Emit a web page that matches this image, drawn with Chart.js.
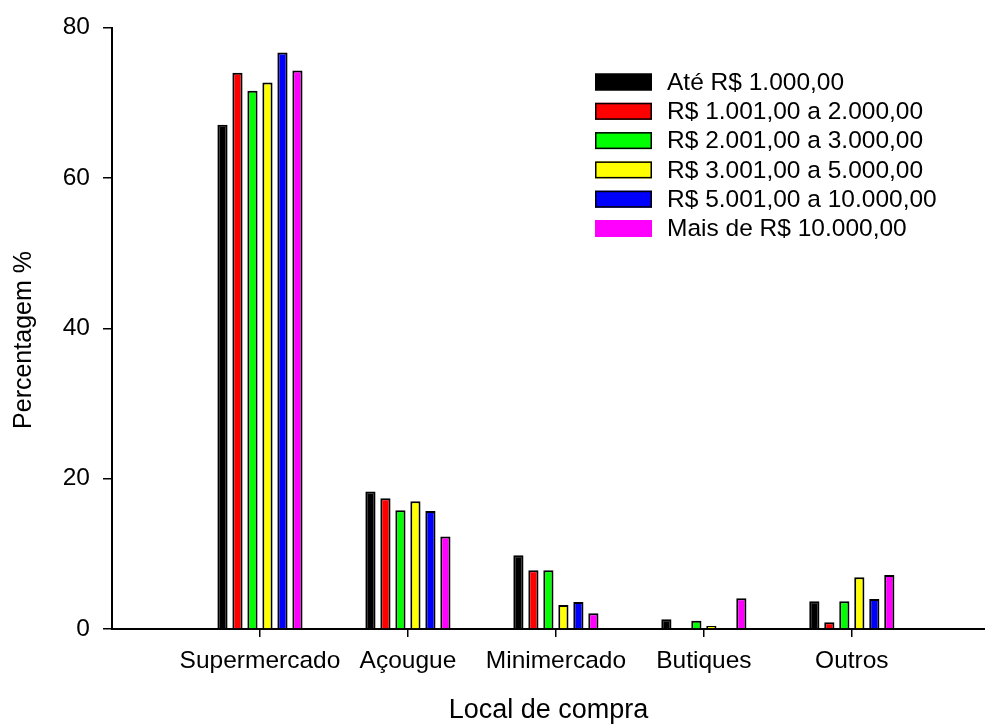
<!DOCTYPE html>
<html>
<head>
<meta charset="utf-8">
<script src="https://cdn.jsdelivr.net/npm/chart.js@4.4.1/dist/chart.umd.min.js"></script>
<style>
  html, body { margin: 0; padding: 0; background: #fff; overflow: hidden; }
  #wrap { width: 985px; height: 724px; }
</style>
</head>
<body>
<div id="wrap"><canvas id="c" width="985" height="724"></canvas></div>
<script>
// Purchase location by household income bracket (% of respondents)
const categories = ['Supermercado', 'Açougue', 'Minimercado', 'Butiques', 'Outros'];

const incomeLabels = [
  'Até R$ 1.000,00',
  'R$ 1.001,00 a 2.000,00',
  'R$ 2.001,00 a 3.000,00',
  'R$ 3.001,00 a 5.000,00',
  'R$ 5.001,00 a 10.000,00',
  'Mais de R$ 10.000,00'
];

const ate1000      = [67.1, 18.3, 9.8, 1.3, 3.7];
const de1001a2000  = [74.0, 17.4, 7.8, 0.0, 0.9];
const de2001a3000  = [71.6, 15.8, 7.8, 1.1, 3.7];
const de3001a5000  = [72.7, 17.0, 3.2, 0.4, 6.9];
const de5001a10000 = [76.7, 15.7, 3.6, 0.0, 4.0];
const mais10000    = [74.3, 12.3, 2.1, 4.1, 7.2];

const yTicks = [0, 20, 40, 60, 80];

const seriesValues = [ate1000, de1001a2000, de2001a3000, de3001a5000, de5001a10000, mais10000];
const seriesColors = ['#000000', '#ff0000', '#00ff00', '#ffff00', '#0000ff', '#ff00ff'];
const legendBordered = [true, true, true, true, true, false];

const FONT = '"Liberation Sans", Arial, sans-serif';
const yTitle = 'Percentagem %';

const datasets = seriesValues.map((vals, s) => ({
  label: incomeLabels[s],
  data: vals.map((v, i) => ({ x: i + 1, y: v })),
  backgroundColor: seriesColors[s],
  borderColor: '#000000',
  borderWidth: 2,
  borderSkipped: 'start',
  categoryPercentage: 0.608,
  barPercentage: 0.68
}));

// Legend drawn as a stacked list inside the plot area, plus the rotated y title
const overlay = {
  id: 'overlay',
  afterDraw(chart) {
    const ctx = chart.ctx;
    const boxX = 595, boxW = 57, boxH = 17, textX = 667, firstY = 82, rowH = 29.3;
    ctx.save();
    ctx.font = '24.5px ' + FONT;
    ctx.textBaseline = 'middle';
    ctx.textAlign = 'left';
    chart.data.datasets.forEach((ds, i) => {
      const cy = firstY + i * rowH;
      ctx.fillStyle = ds.backgroundColor;
      ctx.fillRect(boxX, cy - boxH / 2, boxW, boxH);
      if (legendBordered[i]) {
        ctx.strokeStyle = '#000';
        ctx.lineWidth = 1.5;
        ctx.strokeRect(boxX + 0.75, cy - boxH / 2 + 0.75, boxW - 1.5, boxH - 1.5);
      }
      ctx.fillStyle = '#000';
      ctx.fillText(ds.label, textX, cy + 1);
    });
    ctx.restore();

    ctx.save();
    ctx.translate(24, 340);
    ctx.rotate(-Math.PI / 2);
    ctx.font = '25px ' + FONT;
    ctx.fillStyle = '#000';
    ctx.textAlign = 'center';
    ctx.textBaseline = 'middle';
    ctx.fillText(yTitle, 0, 0);
    ctx.restore();
  }
};

new Chart(document.getElementById('c'), {
  type: 'bar',
  data: { datasets },
  options: {
    responsive: false,
    devicePixelRatio: 1,
    animation: false,
    layout: { padding: { top: 26, right: 0, bottom: 0, left: 0 } },
    plugins: {
      legend: { display: false },
      tooltip: { enabled: false }
    },
    scales: {
      x: {
        type: 'linear',
        min: 0,
        max: 5.9,
        offset: false,
        afterBuildTicks: (scale) => { scale.ticks = categories.map((_, i) => ({ value: i + 1 })); },
        afterFit: (scale) => { scale.height = 95; },
        grid: {
          display: true,
          offset: false,
          drawOnChartArea: false,
          drawTicks: true,
          tickLength: 8,
          color: '#000',
          lineWidth: 1.5
        },
        border: { display: true, color: '#000', width: 2 },
        ticks: {
          color: '#000',
          font: { family: FONT, size: 24.5 },
          padding: 10,
          maxRotation: 0,
          autoSkip: false,
          callback: (v) => categories[Math.round(v) - 1] || ''
        },
        title: {
          display: true,
          text: 'Local de compra',
          color: '#000',
          font: { family: FONT, size: 27, lineHeight: 1 },
          padding: { top: 0, bottom: 0 }
        }
      },
      y: {
        min: 0,
        max: 80,
        afterBuildTicks: (scale) => { scale.ticks = yTicks.map(v => ({ value: v })); },
        afterFit: (scale) => { scale.width = 112; },
        grid: {
          display: true,
          drawOnChartArea: false,
          drawTicks: true,
          tickLength: 9,
          color: '#000',
          lineWidth: 1.5
        },
        border: { display: true, color: '#000', width: 2 },
        ticks: {
          color: '#000',
          font: { family: FONT, size: 24.5 },
          padding: 13
        },
        title: { display: false }
      }
    }
  },
  plugins: [overlay]
});
</script>
</body>
</html>
